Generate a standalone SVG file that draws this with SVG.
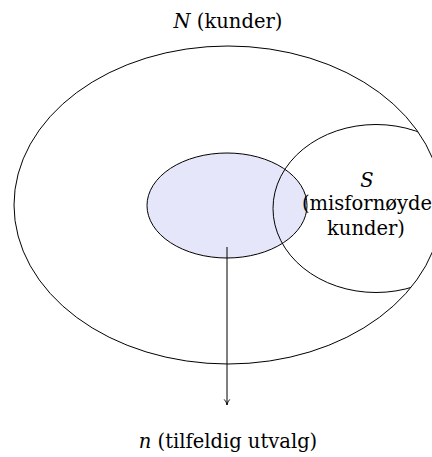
<svg xmlns="http://www.w3.org/2000/svg" width="432" height="457" viewBox="0 0 432 457">
<style>
.shape{stroke:#000;stroke-width:1}
.t{font-family:"DejaVu Serif","Liberation Serif",serif;font-size:19.5px;fill:#000;text-anchor:middle}
.i{font-style:italic}
</style>
<defs>
<marker id="arr" viewBox="0 0 10 10" refX="9" refY="5" markerWidth="8" markerHeight="8" orient="auto" markerUnits="userSpaceOnUse">
<path d="M2,1.5 Q5,4.5 9,5 Q5,5.5 2,8.5" fill="none" stroke="#000" stroke-width="1.1"/>
</marker>
<clipPath id="clipN">
<ellipse cx="228" cy="205" rx="214" ry="159"/>
</clipPath>
</defs>
<rect width="432" height="457" fill="#fff"/>
<g id="N">
<ellipse class="shape" cx="228" cy="205" rx="214" ry="159" fill="none"/>
<text class="t" x="228" y="28"><tspan class="i">N</tspan> (kunder)</text>
</g>
<g id="sample">
<ellipse class="shape" cx="227" cy="205.5" rx="80" ry="52.5" fill="#e6e6fa"/>
</g>
<g id="S">
<ellipse class="shape" cx="376" cy="208.5" rx="103" ry="84" fill="none" clip-path="url(#clipN)"/>
<text class="t" x="367" y="187"><tspan class="i">S</tspan></text>
<text class="t" x="367" y="210">(misfornøyde</text>
<text class="t" x="366" y="235">kunder)</text>
</g>
<g id="connectors">
<line class="shape" x1="227" y1="247" x2="227" y2="405" marker-end="url(#arr)"/>
</g>
<g id="n-label">
<text class="t" x="228" y="448"><tspan class="i">n</tspan> (tilfeldig utvalg)</text>
</g>
</svg>
